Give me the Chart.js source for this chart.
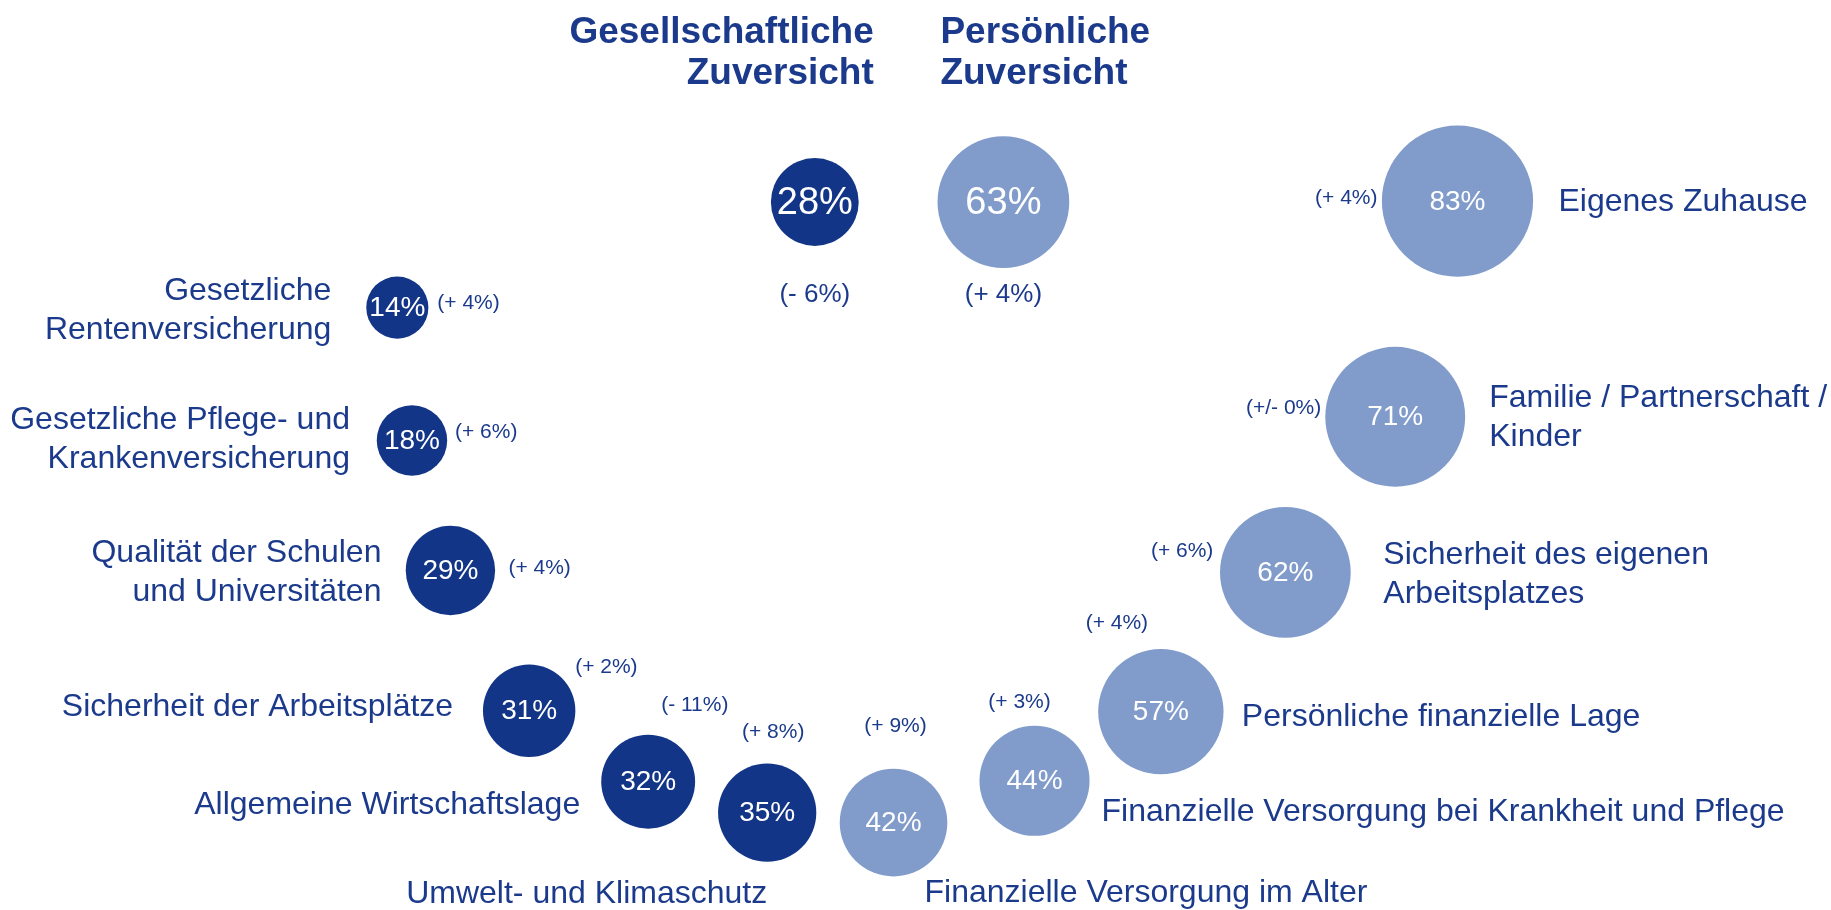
<!DOCTYPE html>
<html lang="de">
<head>
    <meta charset="UTF-8">
    <title>Zuversicht</title>
    <script src="https://cdn.jsdelivr.net/npm/chart.js"></script>
    <style>
        body{
            margin: 0;
            background: #ffffff;
        }
        #wrap{
            position: relative;
            width: 1831px;
            height: 910px;
        }
    </style>
</head>
<body>
    <div id="wrap">
        <canvas id="grafik-zuversicht"></canvas>
    </div>

    <script>
        // gesamt
        const summaryTitles = [["Gesellschaftliche", "Zuversicht"], ["Persönliche", "Zuversicht"]]
        const summaryValues = [28, 63]
        const summaryChanges = ["(- 6%)", "(+ 4%)"]

        // gesellschaftliche Themen
        const gesLabels = [
            ["Gesetzliche", "Rentenversicherung"],
            ["Gesetzliche Pflege- und", "Krankenversicherung"],
            ["Qualität der Schulen", "und Universitäten"],
            ["Sicherheit der Arbeitsplätze"],
            ["Allgemeine Wirtschaftslage"],
            ["Umwelt- und Klimaschutz"]
        ]
        const gesValues = [14, 18, 29, 31, 32, 35]
        const gesChanges = ["(+ 4%)", "(+ 6%)", "(+ 4%)", "(+ 2%)", "(- 11%)", "(+ 8%)"]

        // persönliche Themen
        const perLabels = [
            ["Finanzielle Versorgung im Alter"],
            ["Finanzielle Versorgung bei Krankheit und Pflege"],
            ["Persönliche finanzielle Lage"],
            ["Sicherheit des eigenen", "Arbeitsplatzes"],
            ["Familie / Partnerschaft /", "Kinder"],
            ["Eigenes Zuhause"]
        ]
        const perValues = [42, 44, 57, 62, 71, 83]
        const perChanges = ["(+ 9%)", "(+ 3%)", "(+ 4%)", "(+ 6%)", "(+/- 0%)", "(+ 4%)"]

        // Anordnung im Bogen (Layout-Einheiten 0..100)
        const summaryPos = [[44.5, 22.2], [54.8, 22.2]]
        const gesPos = [[21.7, 33.8], [22.5, 48.4], [24.6, 62.7], [28.9, 78.1], [35.4, 85.9], [41.9, 89.3]]
        const perPos = [[48.8, 90.4], [56.5, 85.8], [63.4, 78.2], [70.2, 62.9], [76.2, 45.8], [79.6, 22.1]]

        // Beschriftung relativ zur Blase: [dx, dy, align]
        const gesLabelOff = [[-66, 3, "right"], [-62, -1, "right"], [-69, 2, "right"], [-76, -4, "right"], [-68, 23, "right"], [0, 82, "right"]]
        const gesChangeOff = [[40, -4, "left"], [43, -8, "left"], [58, -2, "left"], [46, -44, "left"], [13, -76, "left"], [6, -80, "center"]]
        const perLabelOff = [[31, 71, "left"], [67, 31, "left"], [81, 6, "left"], [98, 2, "left"], [94, 1, "left"], [101, 1, "left"]]
        const perChangeOff = [[2, -96, "center"], [-15, -79, "center"], [-44, -88, "center"], [-72, -21, "right"], [-74, -9, "right"], [-80, -3, "right"]]
        const summaryTitleOff = [[59, "right"], [-63, "left"]]

        const dunkel = "#133587"
        const hell = "#819ccb"
        const textBlau = "#1b3a8c"
        const schrift = "'Liberation Sans', Arial, sans-serif"
        const rFaktor = 8.3

        function toPoints(values, pos){
            return values.map((v, i) => ({x: pos[i][0], y: pos[i][1], r: rFaktor * Math.sqrt(v), v: v}))
        }

        function drawLines(ctx, lines, x, y, align, lh){
            ctx.textAlign = align
            ctx.textBaseline = "middle"
            var top = y - (lines.length - 1) * lh / 2
            lines.forEach((l, i) => {
                ctx.fillText(l, x, top + i * lh)
            })
        }

        const beschriftung = {
            id: "beschriftung",
            afterDatasetsDraw(chart){
                const ctx = chart.ctx
                ctx.save()

                // Gesamtwerte
                var sm = chart.getDatasetMeta(0)
                sm.data.forEach((el, i) => {
                    ctx.fillStyle = "#ffffff"
                    ctx.font = "38px " + schrift
                    drawLines(ctx, [summaryValues[i] + "%"], el.x, el.y + 1, "center", 0)
                    ctx.fillStyle = textBlau
                    ctx.font = "26px " + schrift
                    drawLines(ctx, [summaryChanges[i]], el.x, el.y + 93, "center", 0)
                    ctx.font = "bold 37px " + schrift
                    var o = summaryTitleOff[i]
                    ctx.textAlign = o[1]
                    ctx.textBaseline = "alphabetic"
                    ctx.fillText(summaryTitles[i][0], el.x + o[0], 43)
                    ctx.fillText(summaryTitles[i][1], el.x + o[0], 84)
                })

                const gruppen = [
                    [1, gesValues, gesLabels, gesChanges, gesLabelOff, gesChangeOff],
                    [2, perValues, perLabels, perChanges, perLabelOff, perChangeOff]
                ]
                gruppen.forEach(g => {
                    var meta = chart.getDatasetMeta(g[0])
                    meta.data.forEach((el, i) => {
                        ctx.fillStyle = "#ffffff"
                        ctx.font = "28px " + schrift
                        drawLines(ctx, [g[1][i] + "%"], el.x, el.y + 1, "center", 0)

                        ctx.fillStyle = textBlau
                        ctx.font = "32px " + schrift
                        var lo = g[4][i]
                        drawLines(ctx, g[2][i], el.x + lo[0], el.y + lo[1], lo[2], 39)

                        ctx.font = "21px " + schrift
                        var co = g[5][i]
                        drawLines(ctx, [g[3][i]], el.x + co[0], el.y + co[1], co[2], 0)
                    })
                })
                ctx.restore()
            }
        }

        new Chart(document.getElementById("grafik-zuversicht"), {
            type: "bubble",
            data: {
                datasets: [
                    {
                        label: "Zuversicht",
                        data: toPoints(summaryValues, summaryPos),
                        backgroundColor: [dunkel, hell],
                        borderWidth: 0
                    },
                    {
                        label: "Gesellschaftliche Zuversicht",
                        data: toPoints(gesValues, gesPos),
                        backgroundColor: dunkel,
                        borderWidth: 0
                    },
                    {
                        label: "Persönliche Zuversicht",
                        data: toPoints(perValues, perPos),
                        backgroundColor: hell,
                        borderWidth: 0
                    }
                ]
            },
            options: {
                responsive: true,
                maintainAspectRatio: false,
                animation: false,
                layout: { padding: 0, autoPadding: false },
                clip: false,
                scales: {
                    x: { type: "linear", min: 0, max: 100, display: false },
                    y: { type: "linear", min: 0, max: 100, reverse: true, display: false }
                },
                plugins: {
                    legend: { display: false },
                    tooltip: { enabled: false }
                }
            },
            plugins: [beschriftung]
        })
    </script>
</body>
</html>
